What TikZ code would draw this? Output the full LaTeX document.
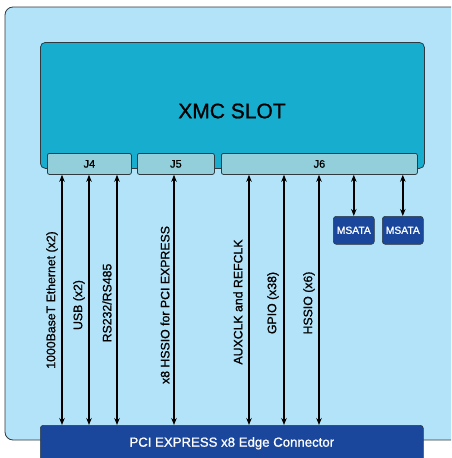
\documentclass[tikz,border=0pt]{standalone}
\usepackage{fontspec}
\setmainfont{Liberation Sans}[FakeBold=0.9]
\usetikzlibrary{arrows.meta}
\definecolor{bgblue}{HTML}{B3E3F8}
\definecolor{slotblue}{HTML}{17ADCE}
\definecolor{jblue}{HTML}{92CFDB}
\definecolor{darkblue}{HTML}{1A479C}
\definecolor{edge}{HTML}{2F3A40}
\tikzset{
  jbox/.style={draw=edge, line width=0.8pt, fill=jblue, rounded corners=2pt, anchor=north west, inner sep=0pt, font=\fontsize{11}{13}\selectfont},
  dbox/.style={draw=edge, line width=0.6pt, fill=darkblue, text=white, rounded corners=3pt, anchor=north west, inner sep=0pt},
  arr/.style={line width=1.5pt, {Stealth[length=7pt,width=5.5pt]}-{Stealth[length=7pt,width=5.5pt]}},
  lbl/.style={rotate=90, font=\fontsize{12.3}{14}\selectfont, inner sep=0pt}
}
\begin{document}
\begin{tikzpicture}[x=1pt,y=-1pt]
\useasboundingbox (0,0) rectangle (451,458);
\begin{scope}
\clip (0,0) rectangle (451,458);
\draw[edge, line width=0.8pt, fill=bgblue, rounded corners=8pt] (5,7) rectangle (480,440);
\node[draw=edge, line width=0.8pt, fill=slotblue, rounded corners=5pt, anchor=north west, minimum width=384pt, minimum height=126pt, inner sep=0pt] (xmc) at (40,42) {};
\node[font=\fontsize{21}{24}\selectfont] (xmct) at (232,111) {XMC SLOT};
\node[jbox, minimum width=84pt, minimum height=21pt] (j4) at (47,153) {J4};
\node[jbox, minimum width=77pt, minimum height=21pt] (j5) at (137,153) {J5};
\node[jbox, minimum width=196pt, minimum height=21pt] (j6) at (221,153) {J6};
\node[dbox, minimum width=41pt, minimum height=28pt, font=\fontsize{10.3}{12}\selectfont] (m1) at (333,216) {MSATA};
\node[dbox, minimum width=41pt, minimum height=28pt, font=\fontsize{10.3}{12}\selectfont] (m2) at (382,216) {MSATA};
\node[dbox, minimum width=383pt, minimum height=36pt, font=\fontsize{13.2}{15}\selectfont] (pci) at (40,425) {PCI EXPRESS x8 Edge Connector};
\draw[arr] (62,0 |- j4.south) -- (62,0 |- pci.north);
\draw[arr] (89,0 |- j4.south) -- (89,0 |- pci.north);
\draw[arr] (117,0 |- j4.south) -- (117,0 |- pci.north);
\draw[arr] (174,0 |- j5.south) -- (174,0 |- pci.north);
\draw[arr] (249,0 |- j6.south) -- (249,0 |- pci.north);
\draw[arr] (284,0 |- j6.south) -- (284,0 |- pci.north);
\draw[arr] (319,0 |- j6.south) -- (319,0 |- pci.north);
\draw[arr] (m1.north |- j6.south) -- (m1.north);
\draw[arr] (m2.north |- j6.south) -- (m2.north);
\node[lbl] (l1) at (52,300) {1000BaseT Ethernet (x2)};
\node[lbl] (l2) at (79,305) {USB (x2)};
\node[lbl] (l3) at (107,303) {RS232/RS485};
\node[lbl] (l4) at (165,305) {x8 HSSIO for PCI EXPRESS};
\node[lbl] (l5) at (238,302) {AUXCLK and REFCLK};
\node[lbl] (l6) at (273,303) {GPIO (x38)};
\node[lbl] (l7) at (309,303) {HSSIO (x6)};
\end{scope}
\end{tikzpicture}
\end{document}
